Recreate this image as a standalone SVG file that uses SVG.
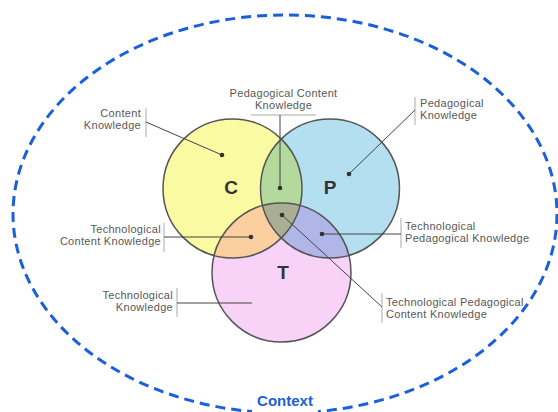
<svg xmlns="http://www.w3.org/2000/svg" width="558" height="412" viewBox="0 0 558 412">
<style>
.lbl{font-family:"Liberation Sans",Arial,sans-serif;font-size:11px;fill:#585858;letter-spacing:0.3px;}
.big{font-family:"Liberation Sans",Arial,sans-serif;font-size:19px;font-weight:bold;fill:#333;text-anchor:middle;}
.ring{fill:none;stroke:#555;stroke-width:1.5;}
.lead{stroke:#444;stroke-width:1;fill:none;}
.bar{stroke:#aaa;stroke-width:1;fill:none;}
.dot{fill:#333;}
</style>
<defs>
<clipPath id="clipC"><circle cx="232.5" cy="188.5" r="69.5"/></clipPath>
<clipPath id="clipP"><circle cx="330" cy="188.5" r="69.5"/></clipPath>
<clipPath id="clipT"><circle cx="281.5" cy="272.5" r="69.5"/></clipPath>
</defs>
<rect width="558" height="412" fill="#fff"/>
<g id="context">
<ellipse cx="285" cy="214" rx="272" ry="199" fill="none" stroke="#1a5fdc" stroke-width="3" stroke-dasharray="10 6"/>
<rect x="252" y="392" width="66" height="20" fill="#fff"/>
<text x="285" y="406" text-anchor="middle" style="font-family:'Liberation Sans',Arial,sans-serif;font-size:15px;font-weight:bold;fill:#1a5fdc;">Context</text>
</g>
<g id="venn">
<circle cx="232.5" cy="188.5" r="69.5" fill="#fafaa2"/>
<circle cx="330" cy="188.5" r="69.5" fill="#b3dff0"/>
<circle cx="281.5" cy="272.5" r="69.5" fill="#f8d3f7"/>
<circle cx="330" cy="188.5" r="69.5" fill="#b3da9c" clip-path="url(#clipC)"/>
<circle cx="281.5" cy="272.5" r="69.5" fill="#fbcf9f" clip-path="url(#clipC)"/>
<circle cx="281.5" cy="272.5" r="69.5" fill="#b1b6e8" clip-path="url(#clipP)"/>
<g clip-path="url(#clipC)"><circle cx="281.5" cy="272.5" r="69.5" fill="#aaae92" clip-path="url(#clipP)"/></g>
<circle class="ring" cx="232.5" cy="188.5" r="69.5"/>
<circle class="ring" cx="330" cy="188.5" r="69.5"/>
<circle class="ring" cx="281.5" cy="272.5" r="69.5"/>
<text class="big" x="231" y="194">C</text>
<text class="big" x="330" y="194">P</text>
<text class="big" x="283" y="279">T</text>
</g>
<g id="connectors">
<line class="bar" x1="146" y1="108" x2="146" y2="137"/>
<line class="lead" x1="146" y1="122" x2="222" y2="155"/>
<line class="bar" x1="251" y1="115" x2="316" y2="115"/>
<line class="lead" x1="280" y1="115" x2="280" y2="188"/>
<line class="bar" x1="415" y1="97" x2="415" y2="125"/>
<line class="lead" x1="415" y1="110" x2="349" y2="174"/>
<line class="bar" x1="164" y1="223" x2="164" y2="252"/>
<line class="lead" x1="164" y1="237" x2="251" y2="237"/>
<line class="bar" x1="177" y1="288" x2="177" y2="317"/>
<line class="lead" x1="177" y1="303" x2="252" y2="303"/>
<line class="bar" x1="401" y1="218" x2="401" y2="248"/>
<line class="lead" x1="322" y1="234" x2="401" y2="234"/>
<line class="bar" x1="382" y1="293" x2="382" y2="323"/>
<line class="lead" x1="282" y1="215" x2="382" y2="307"/>
<circle class="dot" cx="222" cy="155" r="2.3"/>
<circle class="dot" cx="280" cy="188" r="2.3"/>
<circle class="dot" cx="349" cy="174" r="2.3"/>
<circle class="dot" cx="251" cy="237" r="2.3"/>
<circle class="dot" cx="322" cy="234" r="2.3"/>
<circle class="dot" cx="282" cy="215" r="2.3"/>
</g>
<g id="label-ck">
<text class="lbl" x="141" y="117" text-anchor="end">Content</text>
<text class="lbl" x="141" y="129" text-anchor="end">Knowledge</text>
</g>
<g id="label-pck">
<text class="lbl" x="283.5" y="97" text-anchor="middle">Pedagogical Content</text>
<text class="lbl" x="283.5" y="109" text-anchor="middle">Knowledge</text>
</g>
<g id="label-pk">
<text class="lbl" x="420" y="107">Pedagogical</text>
<text class="lbl" x="420" y="119">Knowledge</text>
</g>
<g id="label-tck">
<text class="lbl" x="161" y="233" text-anchor="end">Technological</text>
<text class="lbl" x="161" y="245" text-anchor="end">Content Knowledge</text>
</g>
<g id="label-tk">
<text class="lbl" x="173" y="299" text-anchor="end">Technological</text>
<text class="lbl" x="173" y="311" text-anchor="end">Knowledge</text>
</g>
<g id="label-tpk">
<text class="lbl" x="405" y="230">Technological</text>
<text class="lbl" x="405" y="242">Pedagogical Knowledge</text>
</g>
<g id="label-tpck">
<text class="lbl" x="386" y="306">Technological Pedagogical</text>
<text class="lbl" x="386" y="318">Content Knowledge</text>
</g>
</svg>
